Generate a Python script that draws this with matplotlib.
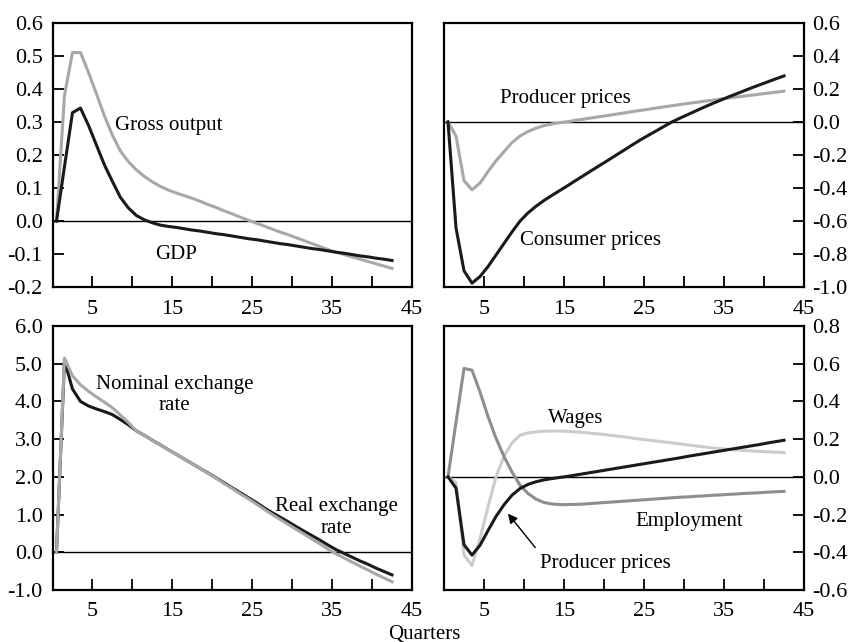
import numpy as np
import matplotlib
matplotlib.use('Agg')
import matplotlib.pyplot as plt

plt.rcParams['font.family'] = ['Liberation Serif', 'DejaVu Serif']
plt.rcParams['font.size'] = 15

# quarters (points sit half-way between the integer quarter marks)
quarters = np.arange(0.5, 43, 1.0)

# top left
gross_output = [0, 0.38, 0.51, 0.51, 0.45, 0.385, 0.318, 0.26, 0.212, 0.18,
                0.155, 0.135, 0.119, 0.105, 0.094, 0.085, 0.077, 0.069, 0.060, 0.050,
                0.041, 0.031, 0.022, 0.012, 0.003, -0.006, -0.015, -0.024, -0.033, -0.041,
                -0.050, -0.059, -0.068, -0.077, -0.086, -0.094, -0.101, -0.108, -0.115, -0.122,
                -0.129, -0.136, -0.143]
gdp = [0, 0.165, 0.328, 0.342, 0.29, 0.23, 0.17, 0.12, 0.072, 0.04,
       0.017, 0.004, -0.005, -0.012, -0.016, -0.019, -0.023, -0.027, -0.030, -0.034,
       -0.038, -0.041, -0.045, -0.049, -0.053, -0.056, -0.060, -0.064, -0.068, -0.071,
       -0.075, -0.079, -0.083, -0.086, -0.090, -0.094, -0.097, -0.101, -0.105, -0.108,
       -0.112, -0.115, -0.119]

# top right
producer_prices = [0, -0.085, -0.355, -0.41, -0.37, -0.30, -0.235, -0.18, -0.125, -0.085,
                   -0.058, -0.038, -0.022, -0.012, -0.005, 0.002, 0.010, 0.017, 0.025, 0.032,
                   0.039, 0.047, 0.054, 0.062, 0.069, 0.076, 0.084, 0.091, 0.098, 0.105,
                   0.112, 0.118, 0.125, 0.131, 0.138, 0.144, 0.150, 0.156, 0.162, 0.168,
                   0.174, 0.180, 0.186]
consumer_prices = [0, -0.64, -0.90, -0.975, -0.935, -0.875, -0.805, -0.735, -0.665, -0.60,
                   -0.55, -0.51, -0.475, -0.444, -0.414, -0.384, -0.353, -0.323, -0.292, -0.262,
                   -0.232, -0.201, -0.171, -0.140, -0.110, -0.082, -0.055, -0.027, 0.000, 0.023,
                   0.045, 0.067, 0.089, 0.110, 0.130, 0.150, 0.169, 0.188, 0.207, 0.225,
                   0.243, 0.261, 0.278]

# bottom left
nominal_rate = [0, 5.15, 4.68, 4.44, 4.27, 4.12, 3.98, 3.83, 3.64, 3.44,
                3.22, 3.10, 2.97, 2.85, 2.72, 2.60, 2.47, 2.35, 2.22, 2.09,
                1.96, 1.82, 1.69, 1.55, 1.42, 1.28, 1.14, 1.00, 0.87, 0.74,
                0.61, 0.48, 0.35, 0.22, 0.08, -0.04, -0.15, -0.26, -0.37, -0.47,
                -0.58, -0.68, -0.78]
real_rate = [0, 5.08, 4.33, 4.00, 3.88, 3.80, 3.73, 3.65, 3.52, 3.38,
             3.22, 3.10, 2.97, 2.85, 2.72, 2.60, 2.47, 2.35, 2.22, 2.10,
             1.97, 1.84, 1.71, 1.58, 1.45, 1.32, 1.18, 1.05, 0.93, 0.81,
             0.68, 0.56, 0.44, 0.32, 0.19, 0.07, -0.03, -0.13, -0.23, -0.32,
             -0.42, -0.51, -0.60]

# bottom right
employment = [0, 0.29, 0.575, 0.566, 0.45, 0.32, 0.205, 0.108, 0.026, -0.044,
              -0.088, -0.118, -0.136, -0.144, -0.147, -0.147, -0.146, -0.144, -0.141, -0.138,
              -0.135, -0.132, -0.129, -0.126, -0.123, -0.120, -0.117, -0.114, -0.111, -0.108,
              -0.106, -0.103, -0.101, -0.098, -0.096, -0.093, -0.091, -0.088, -0.086, -0.084,
              -0.081, -0.079, -0.077]
wages = [0, -0.03, -0.415, -0.47, -0.327, -0.16, 0.0, 0.11, 0.18, 0.221,
         0.233, 0.239, 0.242, 0.243, 0.243, 0.241, 0.238, 0.235, 0.231, 0.227,
         0.222, 0.217, 0.212, 0.206, 0.200, 0.195, 0.190, 0.185, 0.180, 0.175,
         0.169, 0.164, 0.159, 0.154, 0.150, 0.146, 0.143, 0.140, 0.137, 0.135,
         0.133, 0.131, 0.129]
producer_prices2 = [0, -0.06, -0.36, -0.415, -0.363, -0.285, -0.21, -0.148, -0.097, -0.062,
                    -0.040, -0.026, -0.016, -0.009, -0.003, 0.003, 0.010, 0.017, 0.024, 0.031,
                    0.038, 0.045, 0.052, 0.059, 0.066, 0.073, 0.080, 0.087, 0.094, 0.101,
                    0.109, 0.116, 0.123, 0.130, 0.137, 0.144, 0.151, 0.158, 0.165, 0.172,
                    0.180, 0.187, 0.194]

xticks = [5, 10, 15, 20, 25, 30, 35, 40, 45]
xlabels = ['5', '', '15', '', '25', '', '35', '', '45']

BLACK = '#1a1a1a'
GREY = '#a8a8a8'
DARKGREY = '#8e8e8e'
LIGHTGREY = '#cccccc'

W, H = 848, 642
fig = plt.figure(figsize=(W / 100, H / 100), dpi=100)


def make_ax(left, top, right, bottom, ylim, ystep, right_side=False):
    ax = fig.add_axes([left / W, 1 - bottom / H, (right - left) / W, (bottom - top) / H])
    ax.set_xlim(0, 45)
    ax.set_ylim(*ylim)
    ax.set_xticks(xticks)
    ax.set_xticklabels(xlabels)
    yt = np.round(np.arange(ylim[0], ylim[1] + ystep / 2, ystep), 2)
    ax.set_yticks(yt)
    ax.set_yticklabels(['%.1f' % (0.0 if abs(v) < 1e-9 else v) for v in yt])
    ax.tick_params(axis='both', direction='in', length=8, width=1.3, pad=7, labelsize=16)
    ax.tick_params(axis='x', pad=9)
    if right_side:
        ax.yaxis.tick_right()
        ax.tick_params(axis='y', direction='in', length=8, width=1.3, pad=6)
    for s in ax.spines.values():
        s.set_linewidth(1.6)
    ax.axhline(0, color='black', lw=1.0, zorder=1)
    return ax


# top left
ax1 = make_ax(52.5, 22.7, 412, 287.3, (-0.2, 0.6), 0.1)
ax1.plot(quarters, gross_output, color=GREY, lw=2.2)
ax1.plot(quarters, gdp, color=BLACK, lw=2.2)
ax1.text(7.8, 0.29, 'Gross output', va='center', ha='left')
ax1.text(12.8, -0.10, 'GDP', va='center', ha='left')

# top right
ax2 = make_ax(444, 22.7, 804, 287.3, (-1.0, 0.6), 0.2, right_side=True)
ax2.plot(quarters, producer_prices, color=GREY, lw=2.2)
ax2.plot(quarters, consumer_prices, color=BLACK, lw=2.2)
ax2.text(7.0, 0.14, 'Producer prices', va='center', ha='left')
ax2.text(9.5, -0.72, 'Consumer prices', va='center', ha='left')

# bottom left
ax3 = make_ax(52.5, 326, 412, 590, (-1.0, 6.0), 1.0)
ax3.plot(quarters, real_rate, color=BLACK, lw=2.2)
ax3.plot(quarters, nominal_rate, color=GREY, lw=2.2)
ax3.text(15.3, 4.17, 'Nominal exchange\nrate', va='center', ha='center', linespacing=1.2)
ax3.text(35.6, 0.93, 'Real exchange\nrate', va='center', ha='center', linespacing=1.2)

# bottom right
ax4 = make_ax(444, 326, 804, 590, (-0.6, 0.8), 0.2, right_side=True)
ax4.plot(quarters, wages, color=LIGHTGREY, lw=2.2)
ax4.plot(quarters, employment, color=DARKGREY, lw=2.2)
ax4.plot(quarters, producer_prices2, color=BLACK, lw=2.2)
ax4.text(13.0, 0.31, 'Wages', va='center', ha='left')
ax4.text(23.9, -0.235, 'Employment', va='center', ha='left')
ax4.text(12.0, -0.458, 'Producer prices', va='center', ha='left')
ax4.annotate('', xy=(8.0, -0.195), xytext=(11.4, -0.375),
             arrowprops=dict(arrowstyle='-|>', color='black', lw=1.0,
                             mutation_scale=14, shrinkA=0, shrinkB=0))

fig.text(424 / W, 1 - 634 / H, 'Quarters', ha='center', va='center', fontsize=15)

fig.savefig('out.png', dpi=100)
